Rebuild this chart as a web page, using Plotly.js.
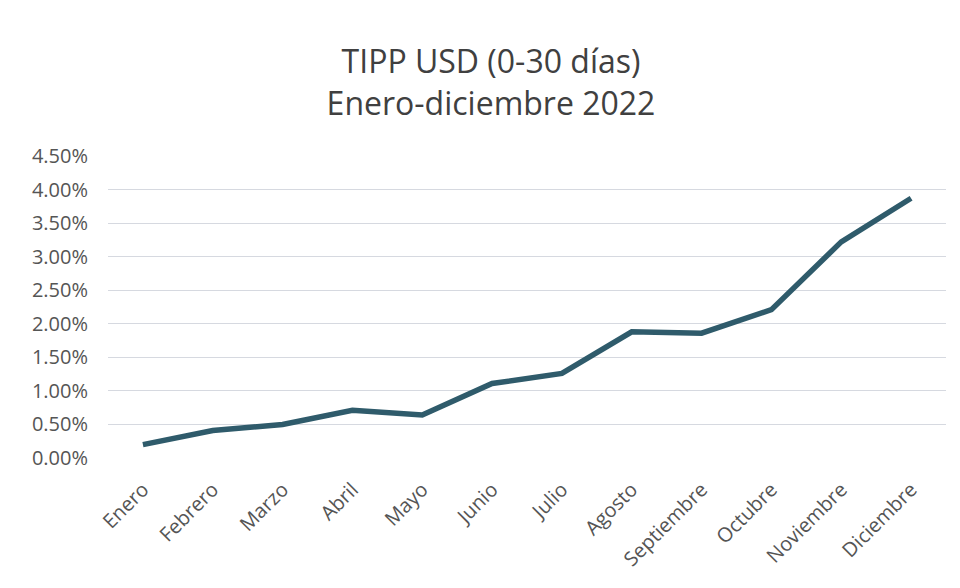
<!DOCTYPE html>
<html>
<head>
<meta charset="utf-8">
<script src="https://cdn.plot.ly/plotly-3.0.1.min.js"></script>
<style>html,body{margin:0;padding:0;background:#fff;}#chart{width:960px;height:588px;}</style>
</head>
<body>
<div id="chart"></div>
<script>
const months = ["Enero","Febrero","Marzo","Abril","Mayo","Junio","Julio","Agosto","Septiembre","Octubre","Noviembre","Diciembre"];
const rates = [0.0020,0.0041,0.0050,0.0071,0.0064,0.0111,0.0126,0.0188,0.0186,0.0221,0.0322,0.0387];
const yTicks = [0,0.005,0.01,0.015,0.02,0.025,0.03,0.035,0.04,0.045];
const titleLines = ["TIPP USD (0-30 días)","Enero-diciembre 2022"];

const trace = {
  x: months, y: rates, type: "scatter", mode: "lines",
  line: {color: "#2f5b6b", width: 5.5, shape: "linear"},
  hoverinfo: "skip"
};
const layout = {
  width: 960, height: 588,
  paper_bgcolor: "#ffffff", plot_bgcolor: "#ffffff",
  margin: {l: 108, r: 14, t: 156, b: 130},
  showlegend: false,
  font: {family: "Open Sans, sans-serif", color: "#595959"},
  title: {
    text: titleLines.join("<br>"),
    font: {family: "Open Sans, sans-serif", size: 32, color: "#404040"},
    x: 491/960, xref: "container", xanchor: "center",
    y: 1 - 73/588, yref: "container", yanchor: "middle"
  },
  xaxis: {
    type: "category", tickangle: -45, showgrid: false, zeroline: false,
    showline: false, ticks: "", ticklabelstandoff: 15,
    tickfont: {size: 20, color: "#555555"},
    range: [-0.5, months.length - 0.5]
  },
  yaxis: {
    range: [0, 0.045], tickvals: yTicks, tickformat: ".2%",
    showgrid: true, gridcolor: "#d6d9e0", gridwidth: 1, zeroline: false,
    showline: false, ticks: "", ticklabelstandoff: 19,
    tickfont: {size: 20, color: "#555555"}
  }
};
Plotly.newPlot("chart", [trace], layout, {displayModeBar: false, staticPlot: true});
</script>
</body>
</html>
